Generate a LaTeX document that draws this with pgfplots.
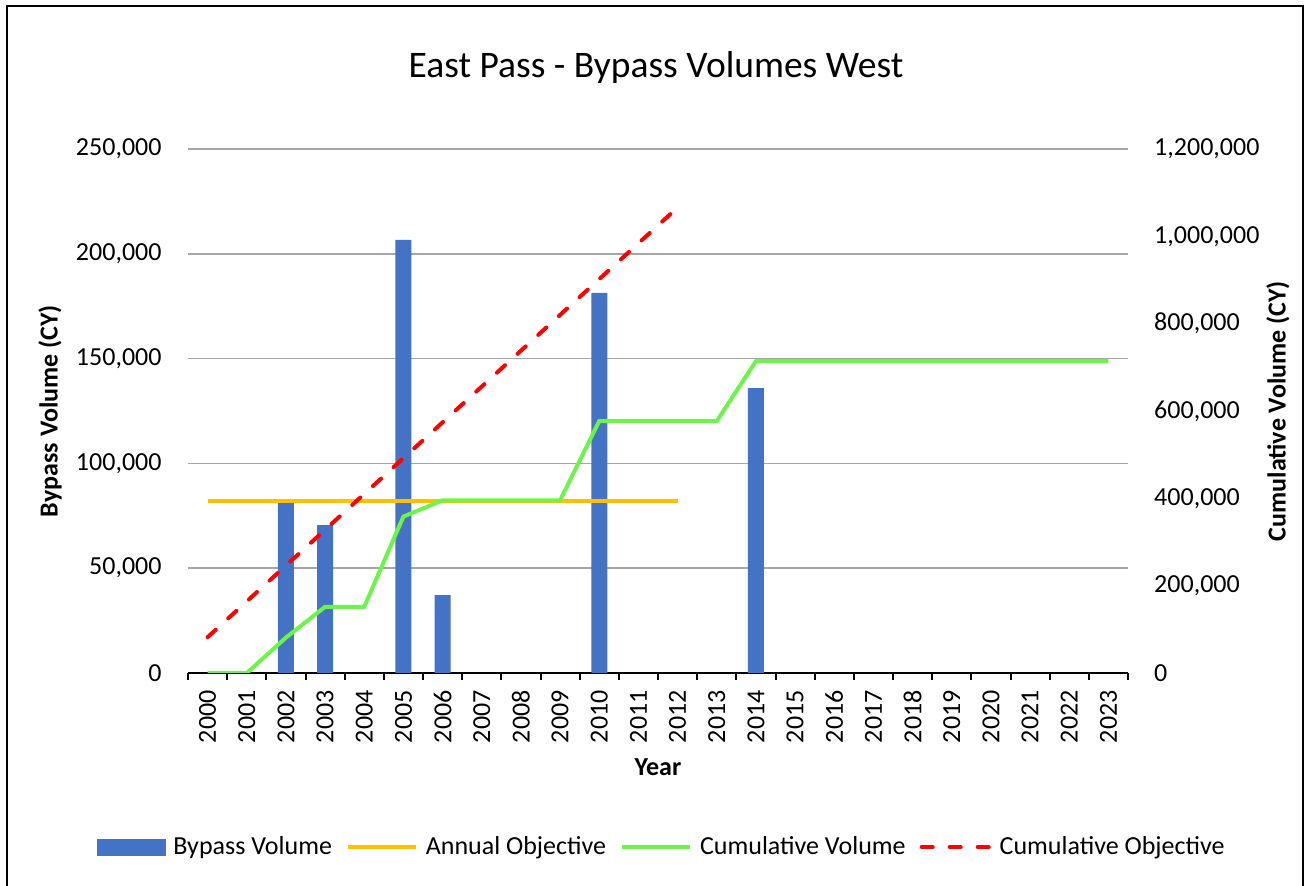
\documentclass[border=0pt]{standalone}
\usepackage{fontspec}
\setmainfont{Carlito}
\usepackage{pgfplots}
\pgfplotsset{compat=1.18}
\definecolor{barblue}{RGB}{68,114,196}
\definecolor{objorange}{RGB}{255,192,0}
\definecolor{cumgreen}{RGB}{108,245,72}
\definecolor{gridgray}{RGB}{166,166,166}
\pgfplotsset{
  lineleg/.style={legend image code/.code={\draw[##1] (0pt,0pt) -- (68pt,0pt);}},
  barleg/.style={legend image code/.code={\fill[barblue] (0pt,-8pt) rectangle (68pt,8pt);}},
  common/.style={
    width=940pt, height=524pt, scale only axis,
    at={(188pt,213pt)}, anchor=south west,
    xmin=-0.5, xmax=23.5, ymin=0,
    font=\fontsize{26}{31}\selectfont,
    scaled y ticks=false,
  }
}
\begin{document}
\fontsize{26}{31}\selectfont
\begin{tikzpicture}
\useasboundingbox (0pt,0pt) rectangle (1307pt,886pt);
\draw[line width=2.5pt] (7pt,-10pt) -- (7pt,880pt) -- (1303pt,880pt) -- (1303pt,-10pt);
\begin{axis}[
  common,
  ymax=250000, ytick={0,50000,100000,150000,200000,250000},
  yticklabels={0,{50,000},{100,000},{150,000},{200,000},{250,000}},
  axis x line*=bottom, axis y line*=left,
  y axis line style={draw=none},
  x axis line style={line width=2pt, black},
  ymajorgrids, major grid style={gridgray, line width=1.5pt},
  xtick={0,...,23},
  xticklabels={2000,2001,2002,2003,2004,2005,2006,2007,2008,2009,2010,2011,2012,2013,2014,2015,2016,2017,2018,2019,2020,2021,2022,2023},
  major x tick style={draw=none},
  ytick style={draw=none},
  minor xtick={-0.5,0.5,...,23.5},
  minor x tick style={black, line width=2pt},
  minor tick length=7pt,
  tick align=outside,
  xticklabel style={rotate=90, anchor=east, inner sep=0pt, xshift=-13pt},
  yticklabel style={anchor=east, inner sep=0pt, xshift=-22pt},
]
\addplot[ybar, bar width=16pt, fill=barblue, draw=none] coordinates {
  (2,81000) (3,70600) (5,206600) (6,37200) (10,181400) (14,135900)};
\addplot[objorange, line width=3.8pt] coordinates {(0,82000) (12,82000)};
\end{axis}
\begin{axis}[
  common,
  ymax=1200000, ytick={0,200000,400000,600000,800000,1000000,1200000},
  yticklabels={0,{200,000},{400,000},{600,000},{800,000},{1,000,000},{1,200,000}},
  hide x axis,
  axis y line*=right,
  y axis line style={draw=none},
  ytick style={draw=none},
  yticklabel style={anchor=west, inner sep=0pt, xshift=26pt},
  legend style={draw=none, fill=none, at={(0.504,-0.332)}, anchor=center,
    font=\fontsize{26}{31}\selectfont,
    /tikz/every odd column/.append style={column sep=6pt},
    /tikz/every even column/.append style={column sep=12pt}},
  legend columns=4,
]
\addlegendimage{barleg}
\addlegendentry{Bypass Volume}
\addlegendimage{lineleg, objorange, line width=3.8pt}
\addlegendentry{Annual Objective}
\addplot[lineleg, cumgreen, line width=4pt] coordinates {
  (0,0) (1,0) (2,81000) (3,151600) (4,151600) (5,358200) (6,395400)
  (7,395400) (8,395400) (9,395400) (10,577000) (11,577000) (12,577000)
  (13,577000) (14,714000) (15,714000) (16,714000) (17,714000) (18,714000)
  (19,714000) (20,714000) (21,714000) (22,714000) (23,714000)};
\addlegendentry{Cumulative Volume}
\addplot[lineleg, red, line width=4pt, line cap=round, dash pattern=on 11pt off 17pt] coordinates {
  (0,82000) (1,164000) (2,246000) (3,328000) (4,410000) (5,492000) (6,574000)
  (7,656000) (8,738000) (9,820000) (10,902000) (11,984000) (12,1066000)};
\addlegendentry{Cumulative Objective}
\end{axis}
\node[anchor=base] at (656pt,808pt) {\fontsize{37.5}{45}\selectfont East Pass - Bypass Volumes West};
\node[anchor=base] at (658pt,110pt) {\bfseries Year};
\node[rotate=90, anchor=center] at (50pt,475pt) {\bfseries Bypass Volume (CY)};
\node[rotate=90, anchor=center] at (1278pt,475pt) {\bfseries Cumulative Volume (CY)};
\end{tikzpicture}
\end{document}
